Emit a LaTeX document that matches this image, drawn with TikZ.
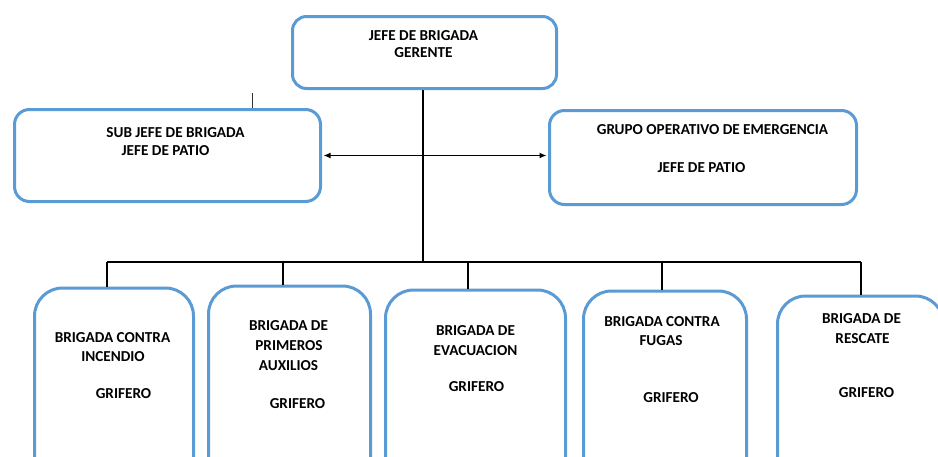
\documentclass[tikz,border=0pt]{standalone}
\usepackage{fontspec}
\setmainfont{Carlito}
\usetikzlibrary{arrows.meta}
\definecolor{boxblue}{HTML}{5B9BD5}
\begin{document}
\begin{tikzpicture}[x=1pt,y=-1pt,
  box/.style={draw=boxblue,line width=3pt,fill=white,inner sep=0pt,rectangle},
  botbox/.style={box,rounded corners=28pt,anchor=north,minimum height=215pt},
  lbl/.style={inner sep=0pt,text height=9.8pt,text depth=0pt,anchor=center,font=\bfseries\fontsize{15.2}{18}\selectfont},
  conn/.style={line width=1.7pt,black}]
\useasboundingbox (0,0) rectangle (938,456);
\clip (0,0) rectangle (938,456);
% boxes
\node[box,rounded corners=14pt,minimum width=264pt,minimum height=72pt] (top) at (424.5,52.5) {};
\node[box,rounded corners=15pt,minimum width=306pt,minimum height=92pt] (sub) at (167.5,155.5) {};
\node[box,rounded corners=15pt,minimum width=307pt,minimum height=94pt] (grp) at (703,157.5) {};
\node[botbox,minimum width=159pt] (b1) at (114,286.5) {};
\node[botbox,minimum width=162pt] (b2) at (289.5,284.5) {};
\node[botbox,minimum width=180pt] (b3) at (475.5,288.5) {};
\node[botbox,minimum width=163pt] (b4) at (665,289.5) {};
\node[botbox,minimum width=166pt] (b5) at (860.5,294.5) {};
% connectors
\coordinate (bus) at (423,262);
\coordinate (d1) at (107,262);
\coordinate (d2) at (283,262);
\coordinate (d3) at (468,262);
\coordinate (d4) at (662,262);
\coordinate (d5) at (861,262);
\draw[conn] (top.south -| bus) -- (bus);
\draw[conn] (d1) -- (d5);
\draw[conn] (d1) -- (d1 |- b1.north);
\draw[conn] (d2) -- (d2 |- b2.north);
\draw[conn] (d3) -- (d3 |- b3.north);
\draw[conn] (d4) -- (d4 |- b4.north);
\draw[conn] (d5) -- (d5 |- b5.north);
\draw[conn,line width=1.4pt,{Latex[length=7pt,width=6pt]}-{Latex[length=7pt,width=6pt]}] ([xshift=1.5pt]sub.east) -- ([xshift=-1.5pt]sub.east -| grp.west);
\coordinate (st) at (252,93);
\draw[line width=1pt,black!80] (st) -- (st |- sub.north);
% texts
\node[lbl] (t1a) at (423.5,36) {JEFE DE BRIGADA};
\node[lbl] (t1b) at (423.5,53) {GERENTE};
\node[lbl] (s1) at (175.5,133) {SUB JEFE DE BRIGADA};
\node[lbl] (s2) at (165.5,151) {JEFE DE PATIO};
\node[lbl] (g1) at (712.5,130) {GRUPO OPERATIVO DE EMERGENCIA};
\node[lbl] (g2) at (701.5,168) {JEFE DE PATIO};
\node[lbl] (a1) at (112.5,338) {BRIGADA CONTRA};
\node[lbl] (a2) at (113,357) {INCENDIO};
\node[lbl] (a3) at (123.5,394) {GRIFERO};
\node[lbl] (p1) at (288.5,326) {BRIGADA DE};
\node[lbl] (p2) at (289,346) {PRIMEROS};
\node[lbl] (p3) at (288.5,366) {AUXILIOS};
\node[lbl] (p4) at (297.5,404) {GRIFERO};
\node[lbl] (e1) at (475.5,331) {BRIGADA DE};
\node[lbl] (e2) at (475.5,351) {EVACUACION};
\node[lbl] (e3) at (476.5,387) {GRIFERO};
\node[lbl] (f1) at (662,322) {BRIGADA CONTRA};
\node[lbl] (f2) at (661,341) {FUGAS};
\node[lbl] (f3) at (671,398) {GRIFERO};
\node[lbl] (r1) at (861.5,319) {BRIGADA DE};
\node[lbl] (r2) at (862.5,339) {RESCATE};
\node[lbl] (r3) at (866.5,393) {GRIFERO};
\end{tikzpicture}
\end{document}
